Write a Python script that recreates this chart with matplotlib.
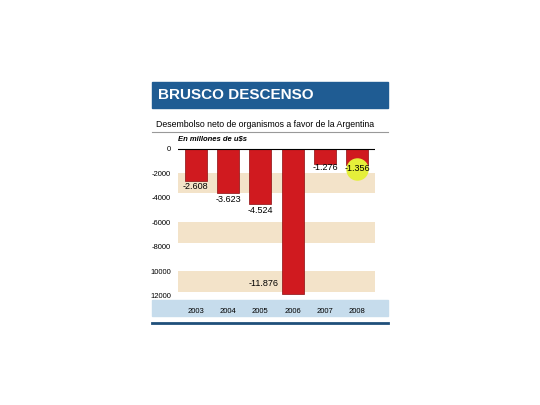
import matplotlib.pyplot as plt
from matplotlib.patches import Rectangle

years = ['2003', '2004', '2005', '2006', '2007', '2008']
values = [-2608, -3623, -4524, -11876, -1276, -1356]
labels = ['-2.608', '-3.623', '-4.524', '-11.876', '-1.276', '-1.356']
ticks = [0, -2000, -4000, -6000, -8000, -10000, -12000]
tick_labels = ['0', '-2000', '-4000', '-6000', '-8000', '10000', '12000']
bands = [(-3600, -2000), (-7700, -6000), (-11700, -10000)]

plt.rcParams['font.family'] = ['Liberation Sans', 'DejaVu Sans']
fig = plt.figure(figsize=(5.4, 4.05), dpi=100)

# header
fig.patches.append(Rectangle((152/540, 1-108/405), 236/540, 26/405, zorder=-1,
                             transform=fig.transFigure, color='#1f5c93'))
fig.text(158/540, 1-95/405, 'BRUSCO DESCENSO', color='white', fontsize=11,
         fontweight='bold', va='center')
fig.text(156/540, 1-124/405, 'Desembolso neto de organismos a favor de la Argentina',
         fontsize=6.3, va='center')
fig.add_artist(plt.Line2D([152/540, 388/540], [1-132/405]*2, color='#999999', lw=0.8))
fig.patches.append(Rectangle((152/540, 1-316/405), 236/540, 16/405, zorder=-1,
                             transform=fig.transFigure, color='#c6dcec'))
fig.add_artist(plt.Line2D([152/540, 388/540], [1-323/405]*2, color='#1f4f7a', lw=2))
fig.text(178/540, 1-139/405, 'En millones de u$s', fontsize=5.5,
         fontstyle='italic', fontweight='bold', va='center')

ax = fig.add_axes([178/540, 1-297/405, 197/540, 152/405])
ax.patch.set_alpha(0)
for lo, hi in bands:
    ax.axhspan(lo, hi, color='#f3e3c9', lw=0)
x = range(len(years))
ax.bar(x, values, width=0.68, color='#d01a1f', edgecolor='#8a0d10', lw=0.5)
ax.axhline(0, color='black', lw=0.8)
for i, (v, t) in enumerate(zip(values, labels)):
    if i == 3:
        ax.text(i - 0.42, -11000, t, ha='right', va='center', fontsize=6.5)
    elif i >= 4:
        if i == 5:
            ax.scatter(i, v - 280, s=230, color='#e5ef3a', zorder=3)
        ax.text(i, v - 280, t, ha='center', va='center', fontsize=6.5, zorder=4)
    else:
        ax.text(i, v - 500, t, ha='center', va='center', fontsize=6.5)
ax.set_xlim(-0.55, 5.55)
ax.set_ylim(-12100, 300)
ax.set_yticks(ticks)
ax.set_yticklabels(tick_labels, fontsize=5.5)
ax.set_xticks(list(x))
ax.set_xticklabels(years, fontsize=5.5)
ax.tick_params(length=0, pad=5, axis='y')
ax.tick_params(length=0, pad=8, axis='x')
for s in ax.spines.values():
    s.set_visible(False)

fig.savefig('out.png', dpi=100)
